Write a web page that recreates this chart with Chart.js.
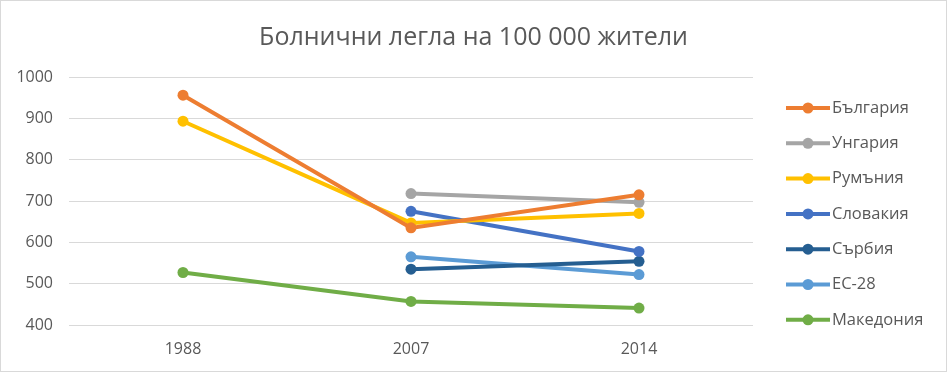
<!DOCTYPE html>
<html>
<head>
<meta charset="utf-8">
<script src="https://cdn.jsdelivr.net/npm/chart.js@4"></script>
<style>
  html, body { margin: 0; padding: 0; background: #fff; }
  #wrap { position: relative; width: 947px; height: 372px; box-sizing: border-box; border: 1px solid #d9d9d9; }
  canvas { display: block; }
</style>
</head>
<body>
<div id="wrap"><canvas id="chart" width="945" height="370"></canvas></div>
<script>
var years = ['1988', '2007', '2014'];
var countries = ['България', 'Унгария', 'Румъния', 'Словакия', 'Сърбия', 'ЕС-28', 'Македония'];
var colors = ['#ED7D31', '#A5A5A5', '#FFC000', '#4472C4', '#255E91', '#5B9BD5', '#70AD47'];
var bulgaria  = [956, 635, 715];
var hungary   = [null, 718, 697];
var romania   = [893, 647, 670];
var slovakia  = [null, 675, 578];
var serbia    = [null, 535, 554];
var eu28      = [null, 565, 522];
var macedonia = [527, 457, 441];
var yTicks = [400, 500, 600, 700, 800, 900, 1000];
var titleText = 'Болнични легла на 100 000 жители';

var series = [bulgaria, hungary, romania, slovakia, serbia, eu28, macedonia];
var fontFamily = '"Open Sans", "Noto Sans", sans-serif';
var textColor = '#595959';

// title over the whole chart and the legend on the right, drawn by hand (Excel look)
var excelDecor = {
    id: 'excelDecor',
    afterDraw: function(chart) {
        var ctx = chart.ctx;
        var area = chart.chartArea;
        ctx.save();
        ctx.fillStyle = textColor;
        ctx.font = '25px ' + fontFamily;
        ctx.textAlign = 'center';
        ctx.textBaseline = 'alphabetic';
        ctx.fillText(titleText, chart.width / 2, 44);

        var x0 = area.right + 33;
        var y = area.top + 31;
        ctx.font = '16.5px ' + fontFamily;
        ctx.textAlign = 'left';
        ctx.textBaseline = 'middle';
        chart.data.datasets.forEach(function(ds) {
            ctx.strokeStyle = ds.borderColor;
            ctx.lineWidth = 4;
            ctx.beginPath();
            ctx.moveTo(x0, y);
            ctx.lineTo(x0 + 44, y);
            ctx.stroke();
            ctx.fillStyle = ds.borderColor;
            ctx.beginPath();
            ctx.arc(x0 + 22, y, 5.5, 0, Math.PI * 2);
            ctx.fill();
            ctx.fillStyle = textColor;
            ctx.fillText(ds.label, x0 + 46, y);
            y += 35.3;
        });
        ctx.restore();
    }
};

var ctx = document.getElementById('chart').getContext('2d');
var chart = new Chart(ctx, {
    type: 'line',
    data: {
        labels: years,
        datasets: countries.map(function(name, i) {
            return {
                label: name,
                data: series[i],
                borderColor: colors[i],
                backgroundColor: colors[i],
                borderWidth: 4,
                pointRadius: 5.5,
                pointHoverRadius: 5.5,
                pointBorderWidth: 0,
                spanGaps: false,
                tension: 0
            };
        })
    },
    options: {
        responsive: false,
        animation: false,
        layout: { padding: { left: 0, right: 193, top: 76, bottom: 0 } },
        plugins: {
            legend: { display: false },
            tooltip: { enabled: false },
            title: { display: false }
        },
        scales: {
            x: {
                offset: true,
                grid: { display: false, drawTicks: false },
                border: { display: false },
                ticks: { color: textColor, font: { family: fontFamily, size: 16 }, padding: 15 },
                afterFit: function(scale) { scale.height = 46; }
            },
            y: {
                min: 400,
                max: 1000,
                afterBuildTicks: function(scale) {
                    scale.ticks = yTicks.map(function(v) { return { value: v }; });
                },
                grid: { color: '#d9d9d9', lineWidth: 1, drawTicks: false },
                border: { display: false },
                ticks: {
                    color: textColor,
                    font: { family: fontFamily, size: 16 },
                    padding: 16,
                    callback: function(value) { return String(value); }
                },
                afterFit: function(scale) { scale.width = 68; }
            }
        }
    },
    plugins: [excelDecor]
});
</script>
</body>
</html>
